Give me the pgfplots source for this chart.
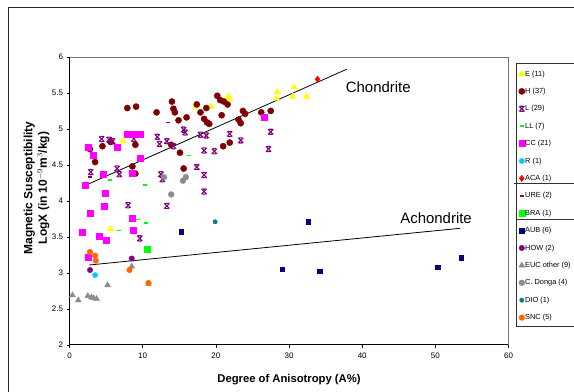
\documentclass[border=0pt]{standalone}
\usepackage{fontspec}
\setmainfont{Liberation Sans}
\usepackage{pgfplots}
\pgfplotsset{compat=1.18}
\definecolor{cE}{HTML}{FFFF00}
\definecolor{cH}{HTML}{800000}
\definecolor{cL}{HTML}{800080}
\definecolor{cLL}{HTML}{00FF00}
\definecolor{cCC}{HTML}{FF00FF}
\definecolor{cR}{HTML}{00CCFF}
\definecolor{cACA}{HTML}{FF0000}
\definecolor{cAUB}{HTML}{000080}
\definecolor{cEUC}{HTML}{8C8C8C}
\definecolor{cDIO}{HTML}{008080}
\definecolor{cSNC}{HTML}{FF6600}
\pgfdeclareplotmark{xbar}{%
  \pgfpathmoveto{\pgfqpoint{-\pgfplotmarksize}{-\pgfplotmarksize}}%
  \pgfpathlineto{\pgfqpoint{\pgfplotmarksize}{\pgfplotmarksize}}%
  \pgfpathmoveto{\pgfqpoint{-\pgfplotmarksize}{\pgfplotmarksize}}%
  \pgfpathlineto{\pgfqpoint{\pgfplotmarksize}{-\pgfplotmarksize}}%
  \pgfpathmoveto{\pgfqpoint{-0.6\pgfplotmarksize}{\pgfplotmarksize}}%
  \pgfpathlineto{\pgfqpoint{0.6\pgfplotmarksize}{\pgfplotmarksize}}%
  \pgfpathmoveto{\pgfqpoint{-0.6\pgfplotmarksize}{-\pgfplotmarksize}}%
  \pgfpathlineto{\pgfqpoint{0.6\pgfplotmarksize}{-\pgfplotmarksize}}%
  \pgfusepathqstroke}
\begin{document}
\begin{tikzpicture}[x=1bp,y=1bp]
\useasboundingbox (0,0) rectangle (574,391);
\clip (0,0) rectangle (574,391);
\fill[white] (0,0) rectangle (574,391);
\draw[line width=0.8bp, black!85] (8,-20) rectangle (620,384);
\begin{axis}[
  at={(95,64)}, anchor=south west,
  scale only axis, width=439bp, height=288bp,
  xmin=0, xmax=60, ymin=2, ymax=6,
  xtick={0,10,...,60}, ytick={2,2.5,...,6},
  axis lines*=left, tick pos=left, tick align=outside,
  major tick length=3bp,
  axis line style={line width=1.1bp, black},
  tick style={line width=0.6bp, black},
  clip=false,
  /pgf/number format/assume math mode=true,
  tick label style={font=\fontsize{8}{9.6}\selectfont},
  xticklabel style={yshift=-1bp},
  xlabel={Degree of Anisotropy (A\%)},
  xlabel style={font=\bfseries\fontsize{11.3}{13}\selectfont, at={(axis description cs:0.5,-0.121)}, anchor=center},
  ylabel={Magnetic Susceptibility\\LogX (in 10$^{-9}$m$^{3}$/kg)},
  ylabel style={font=\bfseries\fontsize{12}{14.5}\selectfont, align=center, at={(axis description cs:-0.0752,0.545)}, anchor=center},
  legend style={at={(axis description cs:1.0136,0.9688)}, anchor=north west, draw=none, fill=none,
    font=\fontsize{7.4}{8.5}\selectfont, row sep=9.6bp, inner sep=4bp,
    nodes={inner sep=0.3bp, text height=5.6bp, text depth=1.6bp}},
  legend cell align=left,
  legend image code/.code={\draw[mark repeat=2,mark phase=2,#1] plot coordinates {(0bp,0bp)(3bp,0bp)(6bp,0bp)};},
]
\addplot[forget plot, black, line width=0.8bp] coordinates {(2.7,4.24) (37.9,5.83)};
\addplot[forget plot, black, line width=0.8bp] coordinates {(2.7,3.11) (53.4,3.62)};
% E
\addplot[only marks, mark=triangle*, mark size=3.6bp, draw=cE, fill=cE] coordinates {
(7.3,4.83) (5.6,3.61) (17.2,5.31) (19.4,5.31) (21.7,5.45) (28.3,5.42) (28.4,5.51) (30.5,5.45) (30.7,5.58) (32.4,5.45) (21.9,5.42)};
\addlegendentry{E (11)}
% H
\addplot[only marks, mark=*, mark size=3.1bp, draw=cH, fill=cH] coordinates {
(2.8,4.72) (3.5,4.54) (4.5,4.76) (5.6,4.82) (7.9,5.29) (9.1,5.31) (9.0,4.78) (8.6,4.48) (9.0,4.38)
(11.9,5.23) (14.0,5.38) (14.2,5.28) (14.4,5.23) (14.9,5.12) (16.0,5.16) (13.9,4.78) (15.1,4.67) (15.6,4.45)
(17.4,5.34) (17.9,5.23) (18.4,5.14) (18.7,5.29) (18.8,5.09) (19.1,5.07) (20.2,5.46) (20.6,5.40) (21.1,5.38)
(21.6,5.34) (20.8,5.19) (23.1,5.13) (23.4,5.08) (23.7,5.25) (24.0,5.21) (26.2,5.23) (27.5,5.25) (21.0,4.76) (21.9,4.81)};
\addlegendentry{H (37)}
% L
\addplot[only marks, mark=xbar, mark size=2.6bp, draw=cL, line width=1.1bp] coordinates {
(2.9,4.40) (4.4,4.86) (5.4,4.85) (5.9,4.83) (6.5,4.45) (6.8,4.37) (8.8,4.86) (12.0,4.89) (12.3,4.79)
(13.3,4.83) (14.2,4.76) (15.6,4.99) (15.8,4.95) (17.4,4.47) (18.4,4.70) (18.4,4.36) (18.4,4.13) (17.9,4.92)
(18.7,4.91) (12.5,4.37) (12.7,4.30) (8.0,3.94) (13.3,3.93) (9.6,3.48) (21.9,4.93) (23.4,4.84) (27.5,4.96)
(27.2,4.72) (19.8,4.69)};
\addlegendentry{L (29)}
% LL
\addplot[only marks, mark=-, mark size=2bp, draw=cLL, line width=1.6bp] coordinates {
(5.6,4.29) (5.1,4.14) (10.3,4.22) (16.3,4.63) (6.7,3.59) (9.3,3.74) (10.5,3.69)};
\addlegendentry{LL (7)}
% CC
\addplot[only marks, mark=square*, mark size=3bp, draw=cCC, fill=cCC] coordinates {
(2.5,4.75) (3.2,4.64) (2.2,4.22) (4.6,4.37) (4.9,4.11) (6.5,4.74) (7.9,4.92) (8.3,4.93) (9.3,4.92)
(9.7,4.92) (9.6,4.60) (8.6,4.39) (4.8,3.93) (2.8,3.83) (1.8,3.56) (4.0,3.51) (5.0,3.46) (2.5,3.22)
(8.5,3.76) (8.7,3.60) (26.6,5.16)};
\addlegendentry{CC (21)}
% R
\addplot[only marks, mark=*, mark size=2.6bp, draw=cR, fill=cR] coordinates {(3.5,2.97)};
\addlegendentry{R (1)}
% ACA
\addplot[only marks, mark=diamond*, mark size=3.2bp, draw=cACA, fill=cACA] coordinates {(33.9,5.69)};
\addlegendentry{ACA (1)}
% URE
\addplot[only marks, mark=-, mark size=2bp, draw=cL, line width=1.6bp] coordinates {(2.8,4.33) (13.4,5.09)};
\addlegendentry{URE (2)}
% BRA
\addplot[only marks, mark=square*, mark size=2.9bp, draw=cLL, fill=cLL] coordinates {(10.6,3.33)};
\addlegendentry{BRA (1)}
% AUB
\addplot[only marks, mark=square*, mark size=2.2bp, draw=cAUB, fill=cAUB] coordinates {
(15.3,3.57) (32.6,3.71) (29.1,3.05) (34.2,3.02) (50.3,3.08) (53.5,3.21)};
\addlegendentry{AUB (6)}
% HOW
\addplot[only marks, mark=*, mark size=2.7bp, draw=cL, fill=cL] coordinates {(2.8,3.04) (8.5,3.20)};
\addlegendentry{HOW (2)}
% EUC other
\addplot[only marks, mark=triangle*, mark size=3.4bp, draw=cEUC, fill=cEUC] coordinates {
(0.4,2.69) (1.2,2.62) (2.5,2.68) (3.0,2.66) (3.3,2.65) (3.7,2.64) (5.2,2.83) (8.5,3.09) (10.8,2.85)};
\addlegendentry{EUC other (9)}
% C. Donga
\addplot[only marks, mark=*, mark size=2.9bp, draw=cEUC, fill=cEUC] coordinates {
(12.9,4.33) (15.5,4.28) (15.9,4.33) (13.9,4.09)};
\addlegendentry{C. Donga (4)}
% DIO
\addplot[only marks, mark=*, mark size=2.2bp, draw=cDIO, fill=cDIO] coordinates {(19.9,3.71)};
\addlegendentry{DIO (1)}
% SNC
\addplot[only marks, mark=*, mark size=2.8bp, draw=cSNC, fill=cSNC] coordinates {
(2.8,3.29) (3.5,3.24) (3.6,3.17) (8.2,3.04) (10.8,2.86)};
\addlegendentry{SNC (5)}
\draw[black!55, line width=0.6bp] (rel axis cs:0,1) -- (rel axis cs:1,1) -- (rel axis cs:1,0);
\node[font=\fontsize{15}{18}\selectfont] at (axis cs:42.2,5.58) {Chondrite};
\node[font=\fontsize{15}{18}\selectfont] at (axis cs:50.1,3.76) {Achondrite};
\end{axis}
\draw[black!80, line width=0.6bp] (516,65) rectangle (620,328);
\draw[black!80, line width=0.6bp] (514,208) -- (620,208);
\draw[black!80, line width=0.6bp] (516,172) -- (620,172);
\end{tikzpicture}
\end{document}
